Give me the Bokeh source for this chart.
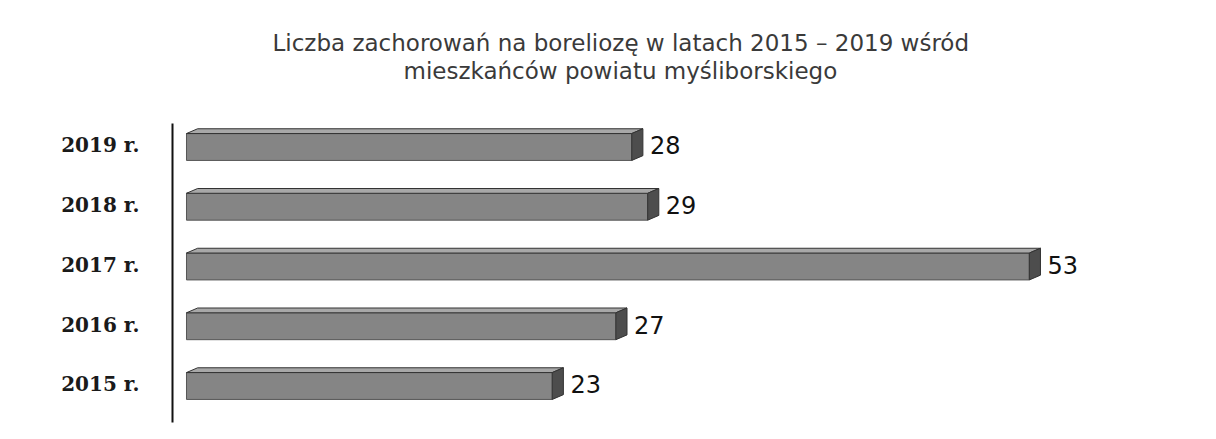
from bokeh.plotting import figure
from bokeh.models import Range1d, FixedTicker, Title, ColumnDataSource
from bokeh.core.properties import value
from bokeh.embed import file_html
from bokeh.resources import INLINE

# ---- data ----
years = ["2015 r.", "2016 r.", "2017 r.", "2018 r.", "2019 r."]
cases = [23, 27, 53, 29, 28]
title_lines = [
    "Liczba zachorowań na boreliozę  w latach 2015 – 2019  wśród",
    "mieszkańców powiatu myśliborskiego",
]

# ---- 3D bar geometry (style) ----
FRONT_BOTTOM = -0.25
FRONT_TOP = 0.20
DEPTH_X = 0.7
DEPTH_Y = 0.08

pos = list(range(len(years)))
src = ColumnDataSource(dict(
    pos=pos,
    v=cases,
    bottom=[p_ + FRONT_BOTTOM for p_ in pos],
    top=[p_ + FRONT_TOP for p_ in pos],
    lx=[v + DEPTH_X for v in cases],
    lbl=[str(v) for v in cases],
))
top_xs = [[0, v, v + DEPTH_X, DEPTH_X] for v in cases]
top_ys = [[p_ + FRONT_TOP, p_ + FRONT_TOP, p_ + FRONT_TOP + DEPTH_Y, p_ + FRONT_TOP + DEPTH_Y] for p_ in pos]
cap_xs = [[v, v + DEPTH_X, v + DEPTH_X, v] for v in cases]
cap_ys = [[p_ + FRONT_BOTTOM, p_ + FRONT_BOTTOM + DEPTH_Y, p_ + FRONT_TOP + DEPTH_Y, p_ + FRONT_TOP] for p_ in pos]

p = figure(width=1208, height=431, output_backend="svg", toolbar_location=None,
           x_range=Range1d(-0.88, 63.7), y_range=Range1d(-0.636, 4.368),
           min_border_left=172, min_border_right=9, min_border_top=123, min_border_bottom=9)
p.outline_line_color = None
p.xgrid.visible = False
p.ygrid.visible = False
p.xaxis.visible = False
p.background_fill_color = "white"
p.border_fill_color = "white"

ax = p.yaxis[0]
ax.ticker = FixedTicker(ticks=pos)
ax.major_label_overrides = {i: y for i, y in zip(pos, years)}
ax.major_tick_line_color = None
ax.minor_tick_line_color = None
ax.axis_line_color = "#111111"
ax.axis_line_width = 2
ax.major_label_standoff = 27
ax.major_label_text_font = "DejaVu Serif"
ax.major_label_text_font_size = "20px"
ax.major_label_text_font_style = "bold"
ax.major_label_text_color = "#1a1a1a"

# front faces
p.quad(left=0, right="v", bottom="bottom", top="top", source=src,
       fill_color="#858585", line_color="#555555", line_width=1)
# top faces
p.patches(top_xs, top_ys, fill_color="#a8a8a8", line_color="#333333", line_width=1)
# end caps
p.patches(cap_xs, cap_ys, fill_color="#4d4d4d", line_color="#333333", line_width=1)

# value labels
p.text(x="lx", y="pos", text="lbl", source=src, x_offset=7,
       text_baseline="middle", text_align="left",
       text_font=value("DejaVu Sans"), text_font_size="24px", text_color="#111111")

# title: spacer nearest frame, then line 2, then line 1 (left-aligned with offsets to centre at x≈620)
p.add_layout(Title(text=" ", text_font_size="34px", standoff=0), "above")
for txt, off in zip(reversed(title_lines), [231, 100]):
    p.add_layout(Title(text=txt, align="left", offset=off, standoff=0,
                       text_font="DejaVu Sans", text_font_size="23px", text_line_height=1.0,
                       text_font_style="normal", text_color="#3a3a3a"), "above")

open("out.html", "w").write(file_html(p, INLINE))
